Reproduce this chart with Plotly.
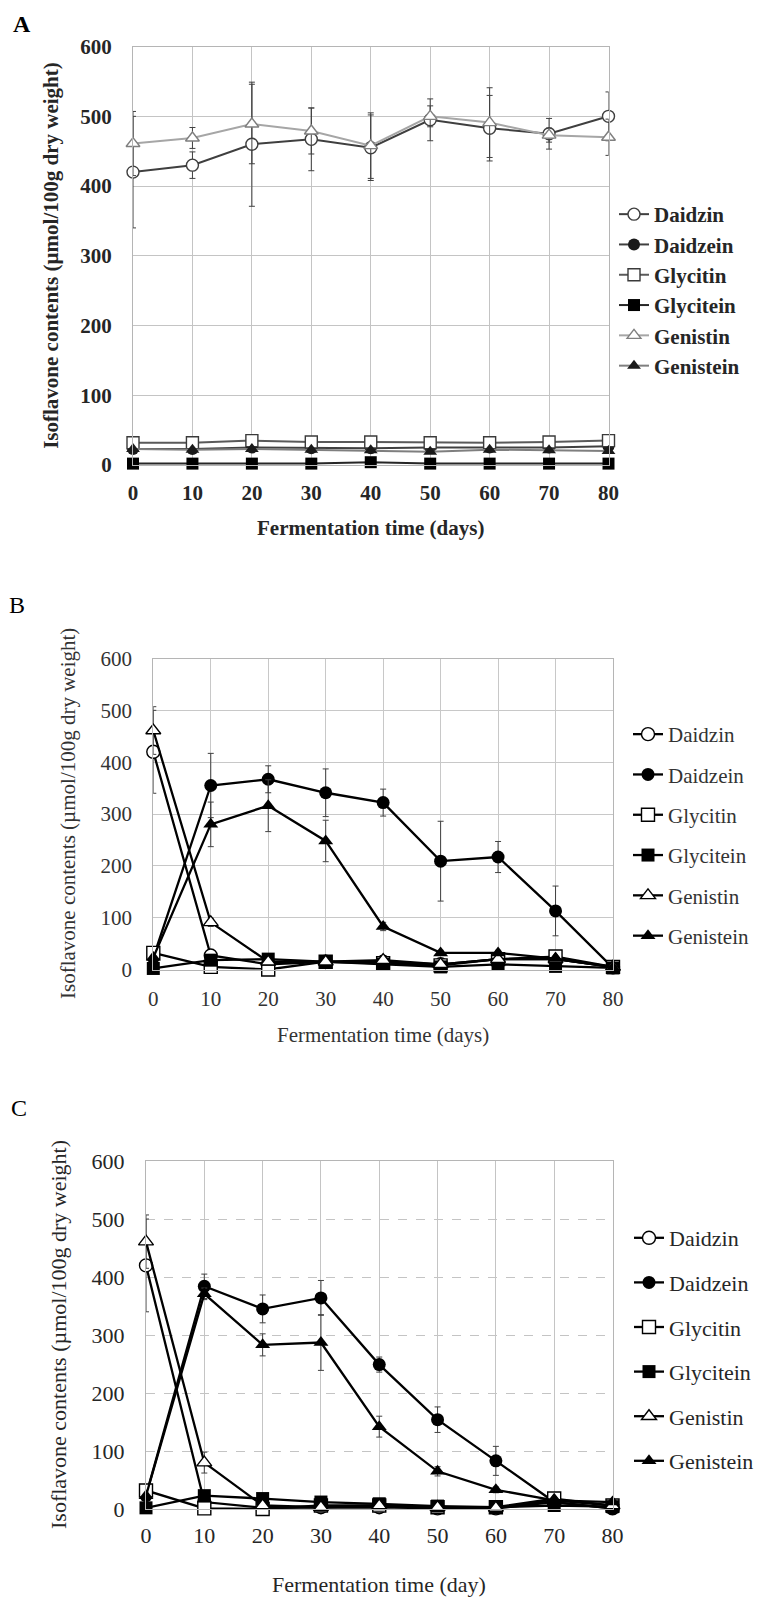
import plotly.graph_objects as go

W, H = 763, 1597
days = [0, 10, 20, 30, 40, 50, 60, 70, 80]
names = ["Daidzin", "Daidzein", "Glycitin", "Glycitein", "Genistin", "Genistein"]
y_ticks = [0, 100, 200, 300, 400, 500, 600]
x_ticks = [0, 10, 20, 30, 40, 50, 60, 70, 80]

# ---------------- Panel A ----------------
a_daidzin = [420, 430, 460, 467, 455, 495, 483, 475, 500]
a_daidzin_err = [80, 19, 89, 45, 47, 30, 47, 22, 35]
a_daidzein = [23, 23, 25, 24, 24, 25, 25, 25, 27]
a_daidzein_err = [2, 2, 2, 2, 2, 2, 2, 2, 2]
a_glycitin = [32, 32, 35, 33, 33, 32, 32, 33, 35]
a_glycitin_err = [2, 2, 2, 2, 2, 2, 2, 2, 2]
a_glycitein = [2, 2, 2, 2, 4, 2, 2, 2, 2]
a_glycitein_err = [1, 1, 1, 1, 1, 1, 1, 1, 1]
a_genistin = [461, 469, 489, 479, 458, 500, 491, 473, 470]
a_genistin_err = [46, 15, 57, 33, 47, 15, 50, 10, 26]
a_genistein = [23, 22, 23, 22, 21, 19, 22, 21, 20]
a_genistein_err = [2, 2, 2, 2, 2, 2, 2, 2, 2]

# ---------------- Panel B ----------------
b_daidzin = [420, 27, 10, 15, 15, 10, 20, 20, 5]
b_daidzin_err = [80, 5, 3, 3, 3, 3, 3, 3, 2]
b_daidzein = [23, 355, 367, 341, 322, 209, 217, 113, 3]
b_daidzein_err = [3, 62, 26, 46, 26, 77, 30, 48, 3]
b_glycitin = [32, 5, 0, 15, 12, 8, 20, 25, 5]
b_glycitin_err = [2, 2, 2, 2, 2, 2, 2, 2, 2]
b_glycitein = [2, 18, 20, 15, 10, 5, 10, 6, 3]
b_glycitein_err = [1, 2, 2, 2, 2, 2, 2, 2, 1]
b_genistin = [461, 91, 15, 15, 18, 10, 20, 20, 5]
b_genistin_err = [46, 8, 3, 3, 3, 3, 3, 3, 2]
b_genistein = [23, 280, 316, 248, 83, 32, 32, 21, 4]
b_genistein_err = [3, 43, 50, 40, 8, 5, 5, 3, 2]

# ---------------- Panel C ----------------
c_daidzin = [420, 12, 2, 3, 3, 1, 1, 12, 1]
c_daidzin_err = [80, 3, 2, 2, 2, 1, 1, 2, 1]
c_daidzein = [23, 384, 345, 364, 249, 154, 83, 12, 1]
c_daidzein_err = [3, 21, 24, 30, 13, 22, 25, 3, 2]
c_glycitin = [32, 1, 0, 6, 6, 3, 3, 18, 6]
c_glycitin_err = [2, 1, 1, 2, 2, 1, 1, 2, 2]
c_glycitein = [2, 23, 18, 12, 9, 5, 3, 6, 4]
c_glycitein_err = [1, 2, 2, 2, 2, 1, 1, 2, 1]
c_genistin = [461, 80, 6, 3, 6, 3, 2, 15, 6]
c_genistin_err = [46, 18, 2, 2, 2, 1, 1, 2, 2]
c_genistein = [23, 371, 283, 287, 142, 65, 33, 15, 12]
c_genistein_err = [3, 10, 19, 48, 18, 8, 5, 3, 2]

panel_data = {
    "A": [(a_daidzin, a_daidzin_err), (a_daidzein, a_daidzein_err), (a_glycitin, a_glycitin_err),
          (a_glycitein, a_glycitein_err), (a_genistin, a_genistin_err), (a_genistein, a_genistein_err)],
    "B": [(b_daidzin, b_daidzin_err), (b_daidzein, b_daidzein_err), (b_glycitin, b_glycitin_err),
          (b_glycitein, b_glycitein_err), (b_genistin, b_genistin_err), (b_genistein, b_genistein_err)],
    "C": [(c_daidzin, c_daidzin_err), (c_daidzein, c_daidzein_err), (c_glycitin, c_glycitin_err),
          (c_glycitein, c_glycitein_err), (c_genistin, c_genistin_err), (c_genistein, c_genistein_err)],
}

symbols = ["circle-open", "circle", "square-open", "square", "triangle-up-open", "triangle-up"]

styles = {
    "A": [("#3f3f3f", "#3f3f3f"), ("#404040", "#1a1a1a"), ("#5a5a5a", "#3a3a3a"),
          ("#262626", "#000000"), ("#a6a6a6", "#7f7f7f"), ("#7f7f7f", "#1a1a1a")],
    "B": [("#000000", "#000000")] * 6,
    "C": [("#000000", "#000000")] * 6,
}

geom = {
    "A": dict(x0=133, x1=608.5, top=46.6, bot=465.0),
    "B": dict(x0=153.3, x1=613.0, top=658.5, bot=969.5),
    "C": dict(x0=146.0, x1=612.5, top=1161.0, bot=1509.0),
}
fonts = {
    "A": dict(family="Liberation Serif", size=21, color="#262626", weight="bold"),
    "B": dict(family="Liberation Serif", size=21, color="#333333"),
    "C": dict(family="Liberation Serif", size=22, color="#262626"),
}
lw = {"A": 2.0, "B": 2.3, "C": 2.3}
msize = {"A": 12, "B": 13, "C": 13}
legend_pos = {"A": (614, 194), "B": (628, 714), "C": (629, 1217)}
legend_gap = {"A": 0, "B": 10, "C": 13}
xtick_standoff = {"A": 9, "B": 10, "C": 6}
letters = {"A": (22, 24), "B": (17, 605), "C": (19, 1108)}
xtitles = {"A": ("Fermentation time (days)", 528), "B": ("Fermentation time (days)", 1035),
           "C": ("Fermentation time (day)", 1584)}
ytitle_x = {"A": 51, "B": 68, "C": 58}
grid_col = {"A": "#c4c4c4", "B": "#c8c8c8", "C": "#c4c4c4"}

fig = go.Figure()
annotations = []
for i, p in enumerate(["A", "B", "C"]):
    g = geom[p]
    ax = "" if i == 0 else str(i + 1)
    leg = "legend" if i == 0 else "legend" + str(i + 1)
    for k, name in enumerate(names):
        vals, errs = panel_data[p][k]
        lc, mc = styles[p][k]
        open_sym = symbols[k].endswith("open")
        fig.add_trace(go.Scatter(
            x=days, y=vals, name=name, mode="lines+markers",
            xaxis="x" + ax, yaxis="y" + ax, legend=leg, legendgroup=p + name,
            line=dict(color=lc, width=lw[p]),
            marker=dict(symbol=symbols[k].replace("-open", ""), size=msize[p],
                        color="white" if open_sym else mc,
                        line=dict(color=mc, width=1.4 if open_sym else 0)),
            error_y=dict(type="data", array=errs, visible=True, color="#404040",
                         thickness=1.0, width=3),
            cliponaxis=False,
        ))
    f = fonts[p]
    tickfont = dict(family=f["family"], size=f["size"], color=f["color"], weight=f.get("weight", "normal"))
    fig.layout["xaxis" + ax] = dict(
        domain=[g["x0"] / W, g["x1"] / W], range=[0, 80], tickvals=x_ticks, anchor="y" + ax,
        showgrid=True, gridcolor=grid_col[p], gridwidth=1, zeroline=False, automargin=False,
        showline=True, linecolor="#b5b5b5", linewidth=1.2, mirror=True,
        ticks="", ticklabelstandoff=xtick_standoff[p], tickfont=tickfont,
    )
    fig.layout["yaxis" + ax] = dict(
        domain=[1 - g["bot"] / H, 1 - g["top"] / H], range=[0, 600], tickvals=y_ticks,
        anchor="x" + ax, showgrid=True, gridcolor=grid_col[p], gridwidth=1, zeroline=False,
        griddash="dash" if p == "C" else "solid", automargin=False,
        showline=True, linecolor="#b5b5b5", linewidth=1.2, mirror=True,
        ticks="", ticklabelstandoff=16, tickfont=tickfont,
    )
    lx, ly = legend_pos[p]
    fig.layout[leg] = dict(
        x=lx / W, y=1 - ly / H, xanchor="left", yanchor="top",
        font=tickfont, tracegroupgap=legend_gap[p], bgcolor="rgba(0,0,0,0)",
        itemclick=False, itemdoubleclick=False,
    )
    annotations.append(dict(text=p, x=letters[p][0] / W, y=1 - letters[p][1] / H,
                            xref="paper", yref="paper", showarrow=False,
                            xanchor="center", yanchor="middle",
                            font=dict(family="Liberation Serif", size=24, color="#000000",
                                      weight="bold" if p == "A" else "normal")))
    annotations.append(dict(text=xtitles[p][0], x=(g["x0"] + g["x1"]) / 2 / W,
                            y=1 - xtitles[p][1] / H, xref="paper", yref="paper",
                            xanchor="center", yanchor="middle",
                            showarrow=False, font=tickfont))
    annotations.append(dict(text="Isoflavone contents (µmol/100g dry weight)",
                            x=ytitle_x[p] / W, y=1 - (g["top"] + g["bot"]) / 2 / H,
                            xref="paper", yref="paper", showarrow=False, textangle=-90,
                            xanchor="center", yanchor="middle", font=tickfont))

fig.update_layout(
    width=W, height=H, margin=dict(l=0, r=0, t=0, b=0, autoexpand=False),
    paper_bgcolor="white", plot_bgcolor="white",
    annotations=annotations, showlegend=True,
)
fig.write_html("out.html", config={"displayModeBar": False},
               post_script="document.body.style.margin='0';document.body.style.padding='0';")
